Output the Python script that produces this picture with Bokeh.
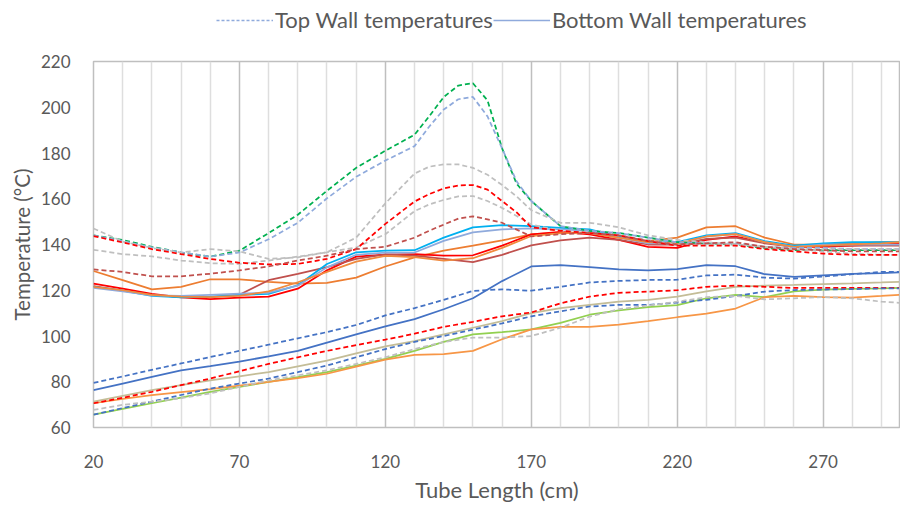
from bokeh.plotting import figure
from bokeh.layouts import column
from bokeh.models import ColumnDataSource, Legend, LegendItem, FixedTicker, Range1d
from bokeh.embed import file_html
from bokeh.resources import INLINE

# ---- data ----
x_cm = [20, 30, 40, 50, 60, 70, 80, 90, 100, 110, 120, 130, 140, 150, 160, 170,
        180, 190, 200, 210, 220, 230, 240, 250, 260, 270, 280, 290, 296]
# finer sampling used for the series with the sharp peak near 150 cm
x_fine = [20, 30, 40, 50, 60, 70, 80, 90, 100, 110, 120, 130, 135, 140, 145, 150, 155, 160, 165, 170,
          180, 190, 200, 210, 220, 230, 240, 250, 260, 270, 280, 290, 296]

# Top wall (dashed) - on x_fine
top_green = [144, 142, 139, 136.5, 134.7, 137.3, 145, 153, 163.5, 173.5, 181, 188,
             196, 204.5, 209.5, 210.5, 203, 182, 166.5, 159,
             148, 146, 145, 143, 141, 140.5, 140, 138.5, 137.5, 137.5, 137.5, 137.5, 137.5]
top_lblue = [144, 141.5, 138.7, 136.6, 134.7, 136.5, 142.3, 149.5, 160.2, 169.6, 176.7, 183,
             191.5, 199, 203.5, 204.5, 196, 182, 167.5, 159,
             148, 146, 145, 143, 141, 140.5, 140.5, 139, 138.5, 138.5, 138, 138, 138]
top_grey1 = [147, 141.3, 138.5, 136.5, 138, 137, 133.7, 134.4, 136.6, 143, 158, 171,
             174, 175, 175, 173.5, 170.5, 166, 161, 155,
             149.5, 149.5, 147.5, 144, 142, 141, 140, 139, 138, 137, 136, 135.5, 135.5]
top_grey2 = [137.7, 135.8, 134.8, 133, 131.8, 131.5, 133, 134.7, 136.6, 138.7, 144.5, 154.6,
             157.5, 159.5, 161, 161.2, 159, 156, 152.5, 148.7,
             146, 145, 144, 142, 140, 140, 140, 139, 138, 138, 138, 138, 138]
top_red1 = [143.7, 140.9, 138, 135.8, 133.7, 132, 131.3, 131.5, 133.7, 138, 149, 158.8,
            162, 164.5, 165.8, 166, 164, 159, 154, 147.5,
            146, 145, 144, 141.5, 139.5, 139.5, 139.5, 138, 137, 136, 135.5, 135.5, 135.5]
top_dred = [129.1, 128, 126.1, 126.1, 127.2, 128.7, 130.4, 133, 135.1, 138, 139, 143,
            146, 148.7, 151.3, 152.3, 151, 149.5, 146.5, 143.5,
            144.5, 145, 144, 141.5, 140, 140.5, 141, 139, 138, 137.5, 137, 137, 137]

# Top wall (dashed) - on x_cm
top_blue1 = [79.5, 82.3, 85.2, 88, 90.8, 93.5, 96.2, 99, 101.7, 104.8, 109, 112.2, 115.8, 119.7, 120.4, 119.8,
             121.5, 123.4, 124.1, 124.5, 124.6, 126.5, 126.8, 125.5, 125.1, 126, 127, 128, 128]
top_red2 = [70.6, 73, 75.6, 78.5, 81.4, 84.6, 87.8, 90.7, 93.5, 96, 98.4, 101, 104, 106.2, 108.6, 110.3,
            114.3, 117.2, 118.9, 119.4, 120, 121.5, 122, 121.5, 121, 121, 121, 121, 121]
top_blue2 = [65.6, 68.5, 71.3, 74.2, 77, 79.2, 81.4, 84.2, 87.1, 90.7, 94.3, 97.4, 100, 102.8, 105.5, 108.6,
             110.8, 112.9, 113.6, 113.6, 114.6, 115.8, 117.5, 119.4, 120.1, 120.3, 120.5, 120.8, 120.8]
top_grey3 = [67.7, 69.9, 71.3, 72.8, 74.9, 77.8, 80.6, 82.8, 85, 87.8, 90.7, 94.3, 97.4, 99.3, 99.3, 100,
             103.6, 108.5, 111.7, 113.3, 115, 117, 117.5, 116, 116.5, 117, 116.5, 115, 114.5]

# Bottom wall (solid) - on x_cm
bot_orange1 = [128.4, 124.4, 120.4, 121.5, 124.8, 124.8, 123.7, 122.9, 123.2, 125.5, 130.4, 134.4, 137.3, 139.5, 141.8, 144.4,
               145.2, 145.2, 143, 141.5, 143, 147.5, 148, 143, 140, 140, 140.5, 141, 141]
bot_red1 = [122.9, 120.7, 118.4, 116.9, 116.1, 116.8, 117.2, 120.7, 128.7, 134.7, 135.6, 135.8, 135.1, 135.3, 139.5, 144.4,
            145.5, 144.4, 142, 139, 138.5, 142, 143.5, 141, 139, 139, 139.5, 140, 140.5]
bot_dred = [121.8, 119.8, 118, 117, 117, 118, 124.4, 127.2, 130.1, 133.7, 135.7, 135.1, 133.7, 132.3, 135.5, 139.6,
            141.8, 143, 142, 140, 140, 142.5, 143, 140.5, 139, 139.5, 139.5, 139.5, 139.5]
bot_cyan = [121.5, 119.8, 117.5, 116.9, 117.2, 118, 118.4, 122.2, 131.5, 136.6, 137.3, 137.5, 143, 147.5, 148.5, 148,
            147.3, 146.6, 143.5, 141, 141, 144, 145, 141.5, 139.5, 140.5, 141, 141, 141]
bot_steel = [121, 119.5, 117.8, 117.5, 118, 118.5, 119, 122, 130, 135.5, 136.5, 136.5, 141.6, 145.3, 146.6, 147,
             146.6, 146, 143, 140.5, 140.5, 143.5, 144.5, 141, 139, 140, 140, 140, 140]
bot_orange2 = [121.5, 120, 118, 117.2, 117, 117.5, 119.5, 123.5, 128, 132.5, 135, 134.5, 133, 134, 138.5, 143.7,
               145, 145, 143, 141, 140.5, 143.5, 144.5, 141, 139, 139.5, 140, 140.5, 141]
bot_blue1 = [76.3, 79.2, 82.1, 85, 86.8, 88.8, 91.1, 93.5, 97.1, 100.7, 104.2, 107.4, 111.7, 116.5, 124, 130.4,
             131, 130.1, 129.1, 128.7, 129.2, 131, 130.5, 127, 125.8, 126.5, 127.2, 127.5, 127.8]
bot_tan = [71.3, 73.8, 76.3, 78.5, 80.6, 82.4, 84.2, 86.7, 89.2, 92.4, 95.5, 97.8, 100.7, 103.6, 106.5, 110,
           112.2, 113.6, 115, 115.8, 117.2, 119.5, 121.5, 122, 122.3, 122.7, 123, 123.4, 123.7]
bot_green = [65.6, 68.1, 70.6, 73.1, 75.6, 77.8, 79.9, 82, 84.2, 87.1, 90, 93.5, 97.4, 100.7, 101.7, 102.9,
             105.7, 109.3, 111.2, 112.6, 113.5, 116.5, 118, 117, 119.5, 120.3, 120.6, 120.8, 121]
bot_orange3 = [70.6, 72.5, 74.2, 75.5, 76.8, 78.3, 79.9, 81.6, 83.5, 86.6, 89.7, 91.7, 92.1, 93.5, 98.6, 102.9,
               104, 104, 105, 106.5, 108.2, 109.8, 112, 117, 117.5, 117, 116.8, 117.5, 118]

x_ticks = [20, 70, 120, 170, 220, 270]
x_minor = [30, 40, 50, 60, 80, 90, 100, 110, 130, 140, 150, 160, 180, 190, 200, 210,
           230, 240, 250, 260, 280, 290]
y_ticks = [60, 80, 100, 120, 140, 160, 180, 200, 220]

legend_labels = ["Top Wall temperatures", "Bottom Wall temperatures"]

series_top_fine = [
    ("top_green", "#00B050"), ("top_lblue", "#8FAADC"), ("top_grey1", "#BFBFBF"),
    ("top_grey2", "#BFBFBF"), ("top_red1", "#FF0000"), ("top_dred", "#C0504D"),
]
series_top = [
    ("top_blue1", "#4472C4"), ("top_red2", "#FF0000"), ("top_blue2", "#4472C4"),
    ("top_grey3", "#BFBFBF"),
]
series_bot = [
    ("bot_orange1", "#ED7D31"), ("bot_red1", "#FF0000"), ("bot_dred", "#C0504D"),
    ("bot_cyan", "#00B0F0"), ("bot_steel", "#8FAADC"), ("bot_orange2", "#F08A3E"),
    ("bot_blue1", "#4472C4"), ("bot_tan", "#C4BD97"), ("bot_green", "#92D050"),
    ("bot_orange3", "#F79646"),
]

src_fine = ColumnDataSource(dict(x=x_fine, top_green=top_green, top_lblue=top_lblue,
                                 top_grey1=top_grey1, top_grey2=top_grey2,
                                 top_red1=top_red1, top_dred=top_dred))
src = ColumnDataSource(dict(x=x_cm, top_blue1=top_blue1, top_red2=top_red2,
                            top_blue2=top_blue2, top_grey3=top_grey3,
                            bot_orange1=bot_orange1, bot_red1=bot_red1, bot_dred=bot_dred,
                            bot_cyan=bot_cyan, bot_steel=bot_steel, bot_orange2=bot_orange2,
                            bot_blue1=bot_blue1, bot_tan=bot_tan, bot_green=bot_green,
                            bot_orange3=bot_orange3))

FONT = "Lato"
TXT = "#595959"

# ---- legend strip (top); its frame is aligned with the chart frame (starts at x=93) ----
leg = figure(width=900, height=45, output_backend="svg", toolbar_location=None,
             x_range=Range1d(0, 1), y_range=Range1d(0, 1),
             x_axis_location=None, y_axis_location=None,
             min_border_left=0, min_border_right=0, min_border_top=0, min_border_bottom=0)
leg.grid.grid_line_color = None
leg.outline_line_color = None
leg_src = ColumnDataSource(dict(x=[-10.0, -9.0], y=[-10.0, -10.0]))
r_top = leg.line("x", "y", source=leg_src, line_color="#8FAADC", line_width=1.5, line_dash="3 2")
r_bot = leg.line("x", "y", source=leg_src, line_color="#8FAADC", line_width=1.5)
legend = Legend(items=[LegendItem(label=legend_labels[0], renderers=[r_top]),
                       LegendItem(label=legend_labels[1], renderers=[r_bot])],
                orientation="horizontal", location=(123, 12))
legend.label_text_font = FONT
legend.label_text_font_size = "22px"
legend.label_text_color = TXT
legend.glyph_width = 57
legend.glyph_height = 20
legend.label_standoff = 2
legend.spacing = 0
legend.padding = 2
legend.margin = 0
legend.border_line_color = None
legend.background_fill_alpha = 0
leg.add_layout(legend, "center")

# ---- main chart ----
p = figure(width=900, height=460, output_backend="svg", toolbar_location=None,
           x_range=Range1d(20, 296.5), y_range=Range1d(60, 220),
           min_border_left=93, min_border_right=0, min_border_top=16, min_border_bottom=72)

p.outline_line_color = "#BFBFBF"
p.outline_line_width = 1.5
p.background_fill_color = "white"
p.border_fill_color = "white"

p.xaxis.ticker = FixedTicker(ticks=x_ticks, minor_ticks=x_minor)
p.yaxis.ticker = FixedTicker(ticks=y_ticks)
p.xgrid.grid_line_color = "#BFBFBF"
p.xgrid.grid_line_width = 1.5
p.xgrid.minor_grid_line_color = "#DEDEDE"
p.xgrid.minor_grid_line_width = 1.5
p.ygrid.grid_line_color = None

for ax in (p.xaxis, p.yaxis):
    ax.axis_line_color = None
    ax.major_tick_line_color = None
    ax.minor_tick_line_color = None
    ax.major_tick_in = 0
    ax.major_tick_out = 0
    ax.minor_tick_in = 0
    ax.minor_tick_out = 0
    ax.major_label_text_font = FONT
    ax.major_label_text_font_size = "17px"
    ax.major_label_text_color = TXT
    ax.axis_label_text_font = FONT
    ax.axis_label_text_color = TXT
    ax.axis_label_text_font_style = "normal"

p.xaxis.axis_label = "Tube Length (cm)"
p.yaxis.axis_label = "Temperature (°C)"
p.xaxis.axis_label_text_font_size = "22px"
p.yaxis.axis_label_text_font_size = "20.5px"
p.xaxis.major_label_standoff = 27
p.yaxis.major_label_standoff = 23
p.xaxis.axis_label_standoff = 5
p.yaxis.axis_label_standoff = 4

for name, color in series_bot:
    p.line("x", name, source=src, line_color=color, line_width=1.75)
for name, color in series_top:
    p.line("x", name, source=src, line_color=color, line_width=1.75, line_dash="5 3")
for name, color in series_top_fine:
    p.line("x", name, source=src_fine, line_color=color, line_width=1.75, line_dash="5 3")

layout = column(leg, p, spacing=0)
open("out.html", "w").write(file_html(layout, INLINE))
